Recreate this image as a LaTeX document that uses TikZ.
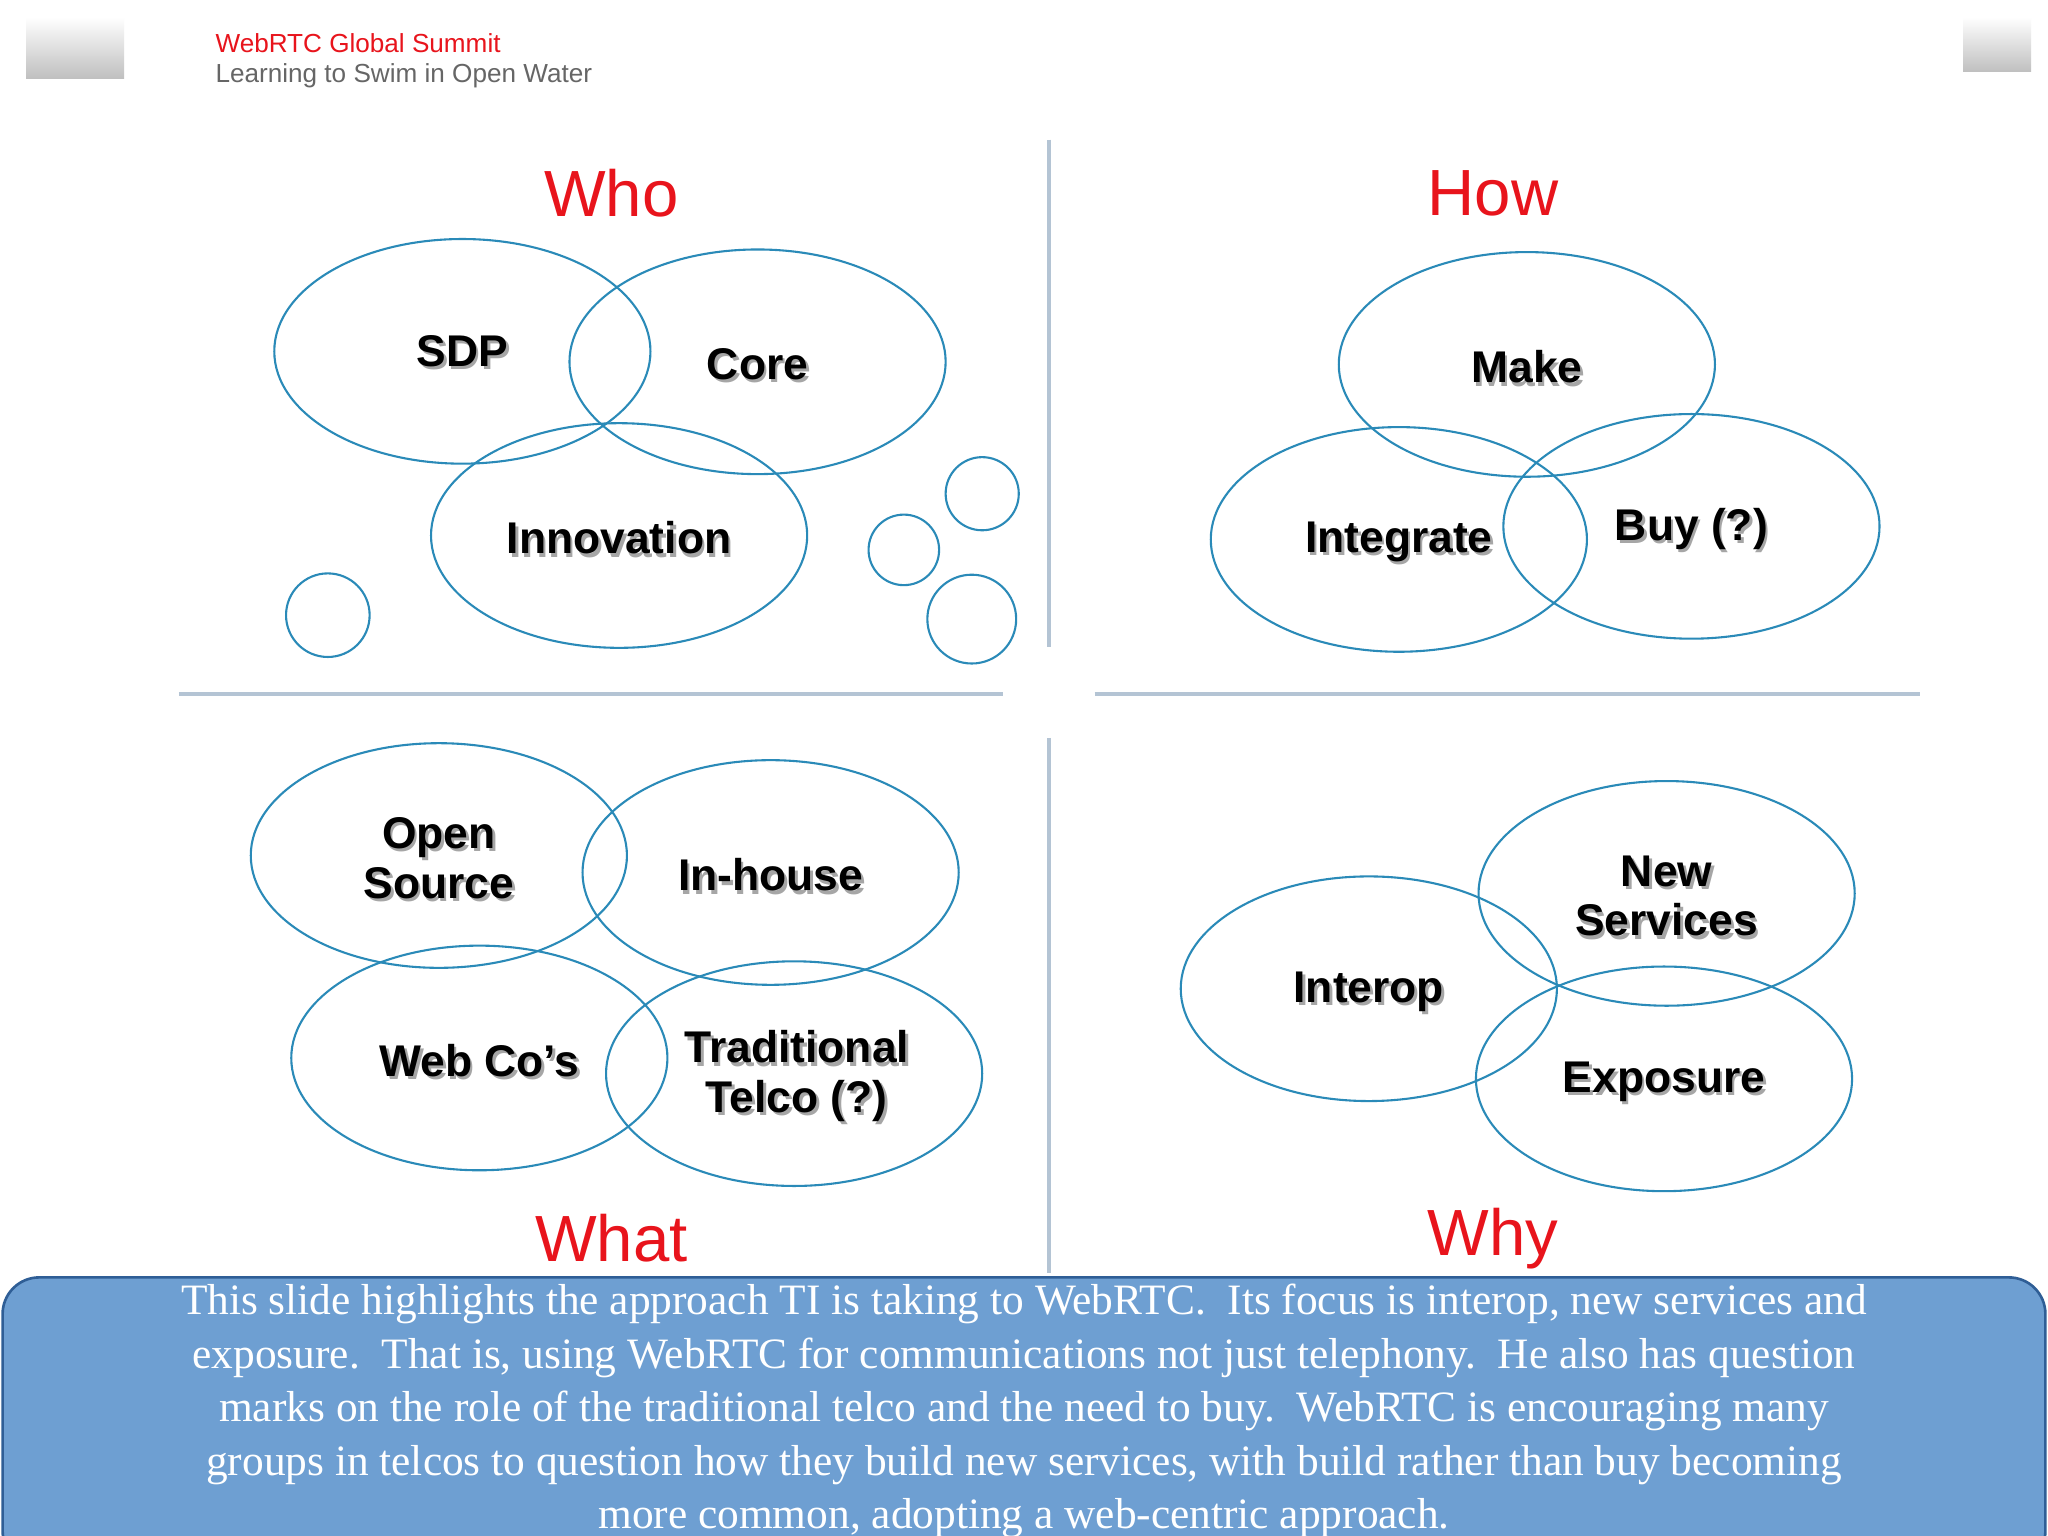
\documentclass[tikz,border=0pt]{standalone}
\usepackage{fontspec}
\setmainfont{Liberation Serif}
\setsansfont{Liberation Sans}
\usetikzlibrary{shapes.geometric}
\definecolor{ring}{HTML}{2A8AB8}
\definecolor{sep}{HTML}{B4C4D4}
\definecolor{ttl}{HTML}{E8141C}
\definecolor{boxfill}{HTML}{6E9FD2}
\definecolor{boxdraw}{HTML}{2F5E96}
\tikzset{
 ov/.style={draw=ring,line width=0.8pt,ellipse,minimum width=144pt,minimum height=86pt,inner sep=0pt},
 sm/.style={draw=ring,line width=0.8pt,circle,inner sep=0pt},
 lbl/.style={font=\sffamily\bfseries\fontsize{17}{19}\selectfont,align=center,text=black},
 shd/.style={font=\sffamily\bfseries\fontsize{17}{19}\selectfont,align=center,text=black!35},
 ttlst/.style={font=\sffamily\fontsize{25}{28}\selectfont,text=ttl},
 sepline/.style={draw=sep,line width=1.5pt}
}
\newcommand{\lab}[3]{\node[shd] at ([xshift=1pt,yshift=-1.2pt]#1) {#3};\node[lbl] (#2) at (#1) {#3};}
\begin{document}
\begin{tikzpicture}[x=0.5pt,y=-0.5pt]
\useasboundingbox (0,0) rectangle (1568,1176);
\fill[white] (0,0) rectangle (1568,1176);
% header
\shade[top color=white,bottom color=gray!50] (20,13) rectangle (95,60);
\shade[top color=white,bottom color=gray!50] (1503,13) rectangle (1555,55);
\node[anchor=west,font=\sffamily\fontsize{10}{12}\selectfont,text=ttl] (h1) at (158,33) {WebRTC Global Summit};
\node[anchor=west,font=\sffamily\fontsize{10}{12}\selectfont,text=gray!80!black] (h2) at (158,58) {Learning to Swim in Open Water};
% separators
\draw[sepline] (803,107) -- (803,495);
\draw[sepline] (803,565) -- (803,975);
\draw[sepline] (137,531) -- (768,531);
\draw[sepline] (838,531) -- (1470,531);
% titles
\node[ttlst] (who) at (468,148) {Who};
\node[ttlst] (how) at (1143,148) {How};
\node[ttlst] (what) at (468,948) {What};
\node[ttlst] (why) at (1143,948) {Why};
% Who
\node[ov] (e1) at (354,269) {}; \node[ov] (e2) at (580,277) {}; \node[ov] (e3) at (474,410) {};
\lab{354,269}{t1}{SDP} \lab{580,279}{t2}{Core} \lab{474,412}{t3}{Innovation}
\node[sm,minimum size=32pt] (c1) at (251,471) {};
\node[sm,minimum size=28pt] (c2) at (752,378) {};
\node[sm,minimum size=27pt] (c3) at (692,421) {};
\node[sm,minimum size=34pt] (c4) at (744,474) {};
% How
\node[ov] (f1) at (1169,279) {}; \node[ov] (f2) at (1071,413) {}; \node[ov] (f3) at (1295,403) {};
\lab{1169,281}{u1}{Make} \lab{1071,415}{u2}{Integrate} \lab{1295,405}{u3}{Buy (?)}
% What
\node[ov] (g1) at (336,655) {}; \node[ov] (g2) at (590,668) {}; \node[ov] (g3) at (367,810) {}; \node[ov] (g4) at (608,822) {};
\lab{336,657}{v1}{Open\\Source} \lab{590,670}{v2}{In-house} \lab{367,812}{v3}{Web Co’s} \lab{610,824}{v4}{Traditional\\Telco (?)}
% Why
\node[ov] (k1) at (1048,757) {}; \node[ov] (k2) at (1276,684) {}; \node[ov] (k3) at (1274,826) {};
\lab{1048,759}{w1}{Interop} \lab{1276,686}{w2}{New\\Services} \lab{1274,828}{w3}{Exposure}
% bottom note
\begin{scope}
\clip (0,0) rectangle (1568,1176);
\draw[draw=boxdraw,fill=boxfill,line width=1pt,rounded corners=14pt] (2,978) rectangle (1566,1200);
\node[anchor=north,align=center,text=white,font=\fontsize{16.6}{20.5}\selectfont] (note) at (784,976) {This slide highlights the approach TI is taking to WebRTC.\ \ Its focus is interop, new services and\\exposure.\ \ That is, using WebRTC for communications not just telephony.\ \ He also has question\\marks on the role of the traditional telco and the need to buy.\ \ WebRTC is encouraging many\\groups in telcos to question how they build new services, with build rather than buy becoming\\more common, adopting a web-centric approach.};
\end{scope}
\end{tikzpicture}
\end{document}
